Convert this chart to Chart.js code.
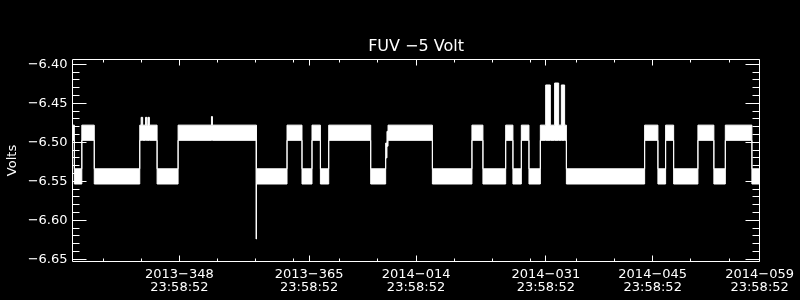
<!DOCTYPE html>
<html>
<head>
<meta charset="utf-8">
<script src="https://cdn.jsdelivr.net/npm/chart.js@4.4.1/dist/chart.umd.min.js"></script>
<style>
    body { margin: 0; background: #000; }
</style>
</head>
<body>
<canvas id="chart" width="800" height="300"></canvas>
<script>
// x is a day number counted from 2013-001 (so 2014-014 = 379), each at 23:58:52
// every entry starts a piece of the trace that lasts until the next one
var segStart = [334.00, 334.24, 335.22, 336.85, 342.81, 342.99, 343.19, 343.57, 343.74, 343.88,
                344.07, 345.08, 347.83, 352.20, 352.33, 358.04, 358.10, 362.10, 364.06, 365.37,
                366.47, 367.56, 373.06, 375.02, 375.19, 375.33, 381.14, 386.32, 387.76, 390.74,
                391.69, 392.79, 393.79, 395.28, 395.98, 396.59, 397.15, 397.68, 398.03, 398.46,
                398.69, 408.94, 410.68, 411.69, 412.74, 415.92, 418.01, 419.51, 422.99, 424.00];
// upper edge of the noisy trace (Volts)
var bandTop = [-6.478, -6.534, -6.478, -6.534, -6.478, -6.468, -6.478, -6.468, -6.478, -6.468,
               -6.478, -6.534, -6.478, -6.467, -6.478, -6.478, -6.534, -6.478, -6.534, -6.478,
               -6.534, -6.478, -6.534, -6.501, -6.486, -6.478, -6.534, -6.478, -6.534, -6.478,
               -6.534, -6.478, -6.534, -6.478, -6.4265, -6.478, -6.424, -6.478, -6.4265, -6.478,
               -6.534, -6.478, -6.534, -6.478, -6.534, -6.478, -6.534, -6.478, -6.534, -6.534];
// lower edge of the noisy trace (Volts)
var bandBottom = [-6.4975, -6.5535, -6.4975, -6.5535, -6.4975, -6.4975, -6.4975, -6.4975, -6.4975, -6.4975,
                  -6.4975, -6.5535, -6.4975, -6.4975, -6.4975, -6.624, -6.5535, -6.4975, -6.5535, -6.4975,
                  -6.5535, -6.4975, -6.5535, -6.520, -6.505, -6.4975, -6.5535, -6.4975, -6.5535, -6.4975,
                  -6.5535, -6.4975, -6.5535, -6.4975, -6.4975, -6.4975, -6.4975, -6.4975, -6.4975, -6.4975,
                  -6.5535, -6.4975, -6.5535, -6.4975, -6.5535, -6.4975, -6.5535, -6.4975, -6.5535, -6.5535];

var xTickDays = [348, 365, 379, 396, 410, 424];
var xTickLabels = ["2013\u2212348", "2013\u2212365", "2014\u2212014", "2014\u2212031", "2014\u2212045", "2014\u2212059"];
var xTickTime = "23:58:52";
var xMinorDays = [338, 343, 353, 358, 363, 369, 374, 384, 389, 394, 400, 405, 415, 420];
var yTicks = [-6.65, -6.60, -6.55, -6.50, -6.45, -6.40];

Chart.defaults.font.family = "DejaVu Sans";
Chart.defaults.color = "#fff";

function toPoints(values) {
    var pts = [];
    for (var i = 0; i < segStart.length; i++) {
        pts.push({ x: segStart[i], y: values[i] });
    }
    return pts;
}

// IDL style box: frame on all four sides with ticks pointing inwards
var frameTicks = {
    id: "frameTicks",
    afterDatasetsDraw: function (chart) {
        var ctx = chart.ctx;
        var a = chart.chartArea;
        var xs = chart.scales.x;
        var ys = chart.scales.y;
        var l = Math.floor(a.left) + 0.5, r = Math.ceil(a.right) - 0.5;
        var t = Math.floor(a.top) + 0.5, b = Math.ceil(a.bottom) - 0.5;
        ctx.save();
        ctx.strokeStyle = "#fff";
        ctx.lineWidth = 1;
        ctx.beginPath();
        ctx.rect(l, t, r - l, b - t);
        function hTick(v, len) {
            var p = Math.floor(ys.getPixelForValue(v)) + 0.5;
            ctx.moveTo(l, p); ctx.lineTo(l + len, p);
            ctx.moveTo(r, p); ctx.lineTo(r - len, p);
        }
        function vTick(v, len) {
            var p = Math.floor(xs.getPixelForValue(v)) + 0.5;
            ctx.moveTo(p, b); ctx.lineTo(p, b - len);
            ctx.moveTo(p, t); ctx.lineTo(p, t + len);
        }
        for (var i = 0; i <= 25; i++) {
            var v = -6.65 + i * 0.01;
            hTick(v, i % 5 == 0 ? 14 : 7);
        }
        for (var i = 0; i < xTickDays.length; i++) vTick(xTickDays[i], 6);
        for (var i = 0; i < xMinorDays.length; i++) vTick(xMinorDays[i], 3);
        ctx.stroke();
        ctx.restore();
    }
};

var ctx = document.getElementById("chart").getContext("2d");
var myChart = new Chart(ctx, {
    type: "line",
    data: {
        datasets: [{
            data: toPoints(bandTop),
            borderColor: "#fff",
            borderWidth: 1,
            pointRadius: 0,
            stepped: "before",
            fill: false
        }, {
            data: toPoints(bandBottom),
            borderColor: "#fff",
            backgroundColor: "#fff",
            borderWidth: 1,
            pointRadius: 0,
            stepped: "before",
            fill: "-1"
        }]
    },
    options: {
        responsive: false,
        animation: false,
        layout: {
            padding: { left: 0, right: 40, top: 0, bottom: 0 }
        },
        plugins: {
            legend: { display: false },
            tooltip: { enabled: false },
            title: {
                display: true,
                fullSize: false,
                text: "FUV \u22125 Volt",
                color: "#fff",
                font: { size: 16, weight: "normal", lineHeight: 1.2 },
                padding: { top: 37.5, bottom: 2.3 }
            }
        },
        scales: {
            x: {
                type: "linear",
                min: 334,
                max: 424,
                grid: { display: false, drawTicks: false },
                border: { display: false },
                afterBuildTicks: function (scale) {
                    scale.ticks = xTickDays.map(function (d) { return { value: d }; });
                },
                afterFit: function (scale) {
                    scale.height = 38;
                },
                ticks: {
                    autoSkip: false,
                    maxRotation: 0,
                    padding: 6,
                    font: { size: 13, lineHeight: 1.03 },
                    callback: function (value) {
                        return [xTickLabels[xTickDays.indexOf(value)], xTickTime];
                    }
                }
            },
            y: {
                min: -6.6535,
                max: -6.3932,
                grid: { display: false, drawTicks: false },
                border: { display: false },
                afterBuildTicks: function (scale) {
                    scale.ticks = yTicks.map(function (v) { return { value: v }; });
                },
                afterFit: function (scale) {
                    scale.width = 72.5;
                },
                title: {
                    display: true,
                    text: "Volts",
                    color: "#fff",
                    font: { size: 13, lineHeight: 1.2 },
                    padding: { top: 4.5, bottom: 0 }
                },
                ticks: {
                    autoSkip: false,
                    padding: 5,
                    font: { size: 13 },
                    callback: function (value) {
                        return value.toFixed(2).replace("-", "\u2212");
                    }
                }
            }
        }
    },
    plugins: [frameTicks]
});
</script>
</body>
</html>
